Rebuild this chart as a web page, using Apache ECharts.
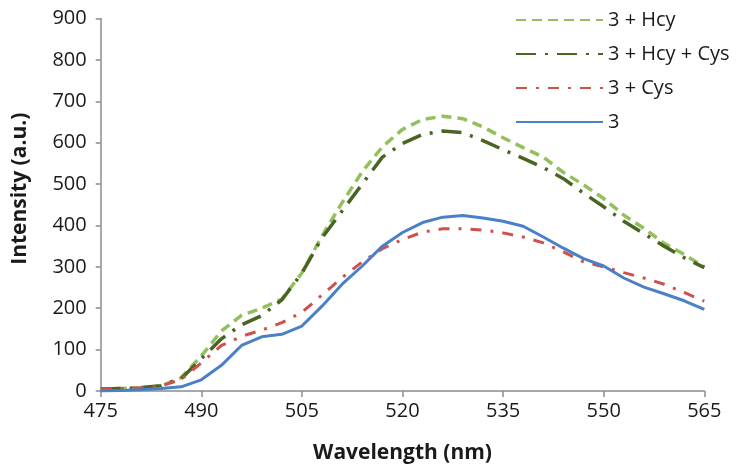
<!DOCTYPE html>
<html>
<head>
<meta charset="utf-8">
<script src="https://cdn.jsdelivr.net/npm/echarts@6/dist/echarts.min.js"></script>
<style>
html,body{margin:0;padding:0;background:#fff;}
#chart{width:750px;height:476px;}
</style>
</head>
<body>
<div id="chart"></div>
<script>
const wavelengths = [475,478,481,484,487,490,493,496,499,502,505,508,511,514,517,520,523,526,529,532,535,538,541,544,547,550,553,556,559,562,565];
const hcy      = [5,6,8,12,32,85,145,183,200,222,285,375,455,530,590,632,656,664,658,638,612,588,565,528,498,465,425,393,357,330,300];
const hcyCys   = [5,6,8,13,30,78,126,160,182,220,285,370,435,500,565,598,620,628,624,605,583,562,540,513,478,445,410,380,350,322,298];
const cys      = [5,6,8,12,28,68,110,132,147,165,190,232,274,312,344,366,384,392,392,389,382,372,358,336,312,300,286,273,258,238,217];
const base     = [0,1,3,6,10,27,62,110,131,137,157,205,258,302,350,383,407,420,424,418,410,398,372,345,320,302,273,251,235,218,197];
const seriesNames = ['3 + Hcy','3 + Hcy + Cys','3 + Cys','3'];

const FONT = '"Open Sans", "Noto Sans", sans-serif';
const chart = echarts.init(document.getElementById('chart'), null, {renderer:'canvas'});

function line(name, data, color, type, width){
  return {
    name, type:'line', data, symbol:'none', showSymbol:false, smooth:false,
    lineStyle:{color, width, type},
    itemStyle:{color},
    z: 2
  };
}

chart.setOption({
  animation:false,
  backgroundColor:'#fff',
  grid:{left:100.7, right:45.7, top:18.5, bottom:85, containLabel:false},
  legend:{
    orient:'vertical', left:510, top:5,
    itemWidth:87, itemHeight:14, itemGap:14,
    itemStyle:{opacity:0},
    textStyle:{fontFamily:FONT, fontSize:20, color:'#1a1a1a', lineHeight:20},
    data:seriesNames
  },
  xAxis:{
    type:'category', data:wavelengths, boundaryGap:false,
    name:'Wavelength (nm)', nameLocation:'middle', nameGap:52,
    nameTextStyle:{fontFamily:FONT, fontSize:21, fontWeight:'bold', color:'#1a1a1a'},
    axisLine:{lineStyle:{color:'#8c8c8c', width:1.5}},
    axisTick:{show:true, interval:4, length:6, alignWithLabel:true, lineStyle:{color:'#8c8c8c', width:1.5}},
    axisLabel:{interval:4, margin:10, fontFamily:FONT, fontSize:20, color:'#1a1a1a'},
    splitLine:{show:false}
  },
  yAxis:{
    type:'value', min:0, max:900, interval:100,
    name:'Intensity (a.u.)', nameLocation:'middle', nameGap:70, nameRotate:90,
    nameTextStyle:{fontFamily:FONT, fontSize:21, fontWeight:'bold', color:'#1a1a1a', padding:[0,0,0,32]},
    axisLine:{show:true, lineStyle:{color:'#8c8c8c', width:1.5}},
    axisTick:{show:true, length:5, lineStyle:{color:'#8c8c8c', width:1.5}},
    axisLabel:{margin:14, fontFamily:FONT, fontSize:20, color:'#1a1a1a'},
    splitLine:{show:false}
  },
  series:[
    line(seriesNames[0], hcy, '#92c05a', [10,6], 3.5),
    line(seriesNames[1], hcyCys, '#4a6423', [20,9,3,9], 3.5),
    line(seriesNames[2], cys, '#d0504d', [11,9,3,9], 3),
    line(seriesNames[3], base, '#4a80c8', 'solid', 3)
  ]
});
</script>
</body>
</html>
